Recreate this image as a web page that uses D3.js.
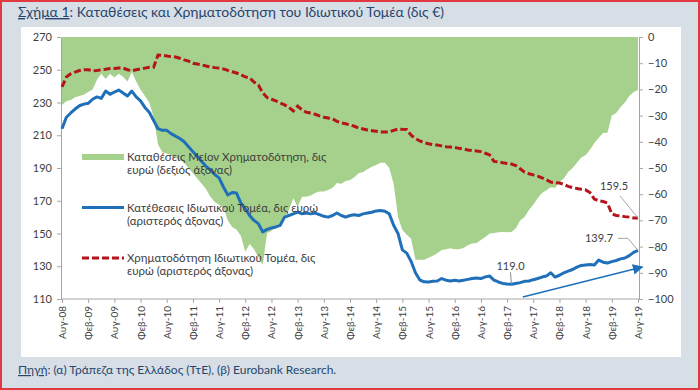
<!DOCTYPE html>
<html>
<head>
<meta charset="utf-8">
<script src="https://cdn.jsdelivr.net/npm/d3@7"></script>
<style>
  body { margin: 0; }
  svg { display: block; font-family: Lato, "Noto Sans", sans-serif; }
</style>
</head>
<body>
<div class="chart"></div>
<script>
// x tick labels, one every 6 months from Aug-08 (month index 0) to Aug-19 (index 132)
const tickLabels = [
  "Αυγ-08", "Φεβ-09", "Αυγ-09", "Φεβ-10", "Αυγ-10", "Φεβ-11", "Αυγ-11", "Φεβ-12",
  "Αυγ-12", "Φεβ-13", "Αυγ-13", "Φεβ-14", "Αυγ-14", "Φεβ-15", "Αυγ-15", "Φεβ-16",
  "Αυγ-16", "Φεβ-17", "Αυγ-17", "Φεβ-18", "Αυγ-18", "Φεβ-19", "Αυγ-19"
];
const leftTicks = [110, 130, 150, 170, 190, 210, 230, 250, 270];
const rightTicks = [0, -10, -20, -30, -40, -50, -60, -70, -80, -90, -100];

// monthly, Aug-08 .. Aug-19 (bn €)
const deposits = [
  214, 221, 223.6, 226, 228, 229, 229.5, 232, 233.4, 232.5, 237, 235,
  236.4, 237.6, 235.8, 234, 237, 233.4, 231, 227, 224, 219, 214, 213,
  213, 211, 209.5, 208, 206, 203, 200, 197, 194, 191, 188.8, 186,
  184, 178.4, 173.5, 175, 174.7, 168.6, 165, 161, 158, 156, 151, 152.5,
  153.4, 154, 155, 160, 161, 162, 163, 162, 162.5, 162, 162.5, 161.5,
  160.5, 160, 161, 162.5, 161, 160, 161, 161.5, 161, 162, 162.5, 163,
  163.8, 164, 163.6, 162, 155, 150, 140, 138, 133, 126, 121.6, 120.5,
  120.4, 120.8, 121, 122.5, 121.5, 121, 121.5, 121, 121.5, 122, 122.5, 122.8,
  122.5, 123.5, 124, 121.5, 120.4, 119.5, 119.2, 119.0, 119.5, 120, 120.8, 121,
  121.8, 122.5, 123.4, 124, 126, 123.4, 124.5, 126, 127, 128, 129.5, 130.5,
  130.8, 131, 130.8, 133.8, 132.5, 132, 132.8, 133.5, 134.5, 135, 136.5, 138.5,
  139.7
];
const loans = [
  239.5, 245.6, 247.5, 248.6, 249.5, 250, 250, 249.4, 249.5, 250, 250.3, 250.7,
  250.8, 251, 251, 250, 249.4, 250, 250.5, 251, 251.5, 251.5, 259, 258.8,
  258.4, 258, 257.8, 257, 256, 255.3, 254, 253.5, 253, 252.3, 251.7, 251.3,
  251, 250.5, 249.6, 248.8, 248, 247, 245.6, 245, 242.5, 240.7, 236, 233,
  232, 231, 229.7, 228.5, 227, 224.8, 227.8, 225.5, 224, 223.6, 222.8, 221.8,
  221, 220.5, 220, 218.5, 217.5, 217, 216.3, 215.5, 214.4, 213.8, 213.2, 212.8,
  212.4, 212, 212, 212, 213, 213.8, 213.6, 213.5, 210, 208, 206.5, 205.5,
  204.8, 204.2, 204, 203.5, 203, 202.8, 202.5, 202, 201.6, 201, 200.6, 200.4,
  200, 199, 198, 194, 193.7, 193.2, 192.8, 192.4, 191.5, 189.5, 187.5, 186.5,
  185.8, 185, 184, 182.8, 181.4, 181, 180.8, 180, 178.8, 178, 177.5, 177,
  176.6, 175, 171, 170, 169.5, 168.6, 162, 161, 160.7, 160.3, 160, 159.5,
  159.5
];
const gap = [
  -26, -24.5, -24, -23, -22.5, -22, -21, -20, -16.4, -14, -16, -14,
  -15.5, -14, -15.2, -17, -13.4, -17, -20, -22.5, -25, -30.5, -41, -44,
  -44.5, -45, -46, -47, -48, -50, -52, -54, -56, -58, -61, -63,
  -64, -65, -70, -72.5, -73.5, -76, -82, -79, -81, -84, -87, -74.8,
  -74, -72.5, -71, -68.7, -66, -61.5, -64.9, -61, -61, -60.5, -59.5, -59,
  -59, -58.4, -57.5, -55.7, -56, -55, -54.6, -53.5, -52, -51.5, -50.5, -49.5,
  -48.9, -48, -48, -50, -56, -68.7, -73.7, -75.5, -77, -85, -85, -85,
  -84.3, -83.5, -82.5, -81.3, -81, -80.6, -81, -81, -80.5, -79.5, -78.8, -78.6,
  -77.5, -76.3, -75, -74.8, -74.5, -74.4, -74.5, -74.4, -73, -70, -68.7, -66,
  -64, -61.5, -59.5, -58.5, -57.3, -57.5, -55.3, -54, -51.5, -50, -48, -46,
  -45, -43, -40.5, -38.5, -36.6, -36.5, -30, -29, -26.7, -25, -22.5, -21,
  -20.2
];

// trend arrow, in [month index, left-axis value]
const trendArrow = [[105.6, 111.2], [133, 129.5]];

const W = 700, H = 390;
const plot = { left: 61, right: 639, top: 37, bottom: 299 };

const colors = {
  gap: "#a6d18c",
  deposits: "#1f70b8",
  loans: "#b3151b",
  axis: "#a6a6a6",
  text: "#404040",
  title: "#27466c"
};

const svg = d3.select(".chart").append("svg").attr("width", W).attr("height", H);

// frame
svg.append("rect").attr("width", W).attr("height", H).attr("fill", "#d7dee6");
svg.append("rect").attr("x", 21).attr("y", 27).attr("width", 660).attr("height", 330).attr("fill", "#fff");
svg.append("rect").attr("x", 1).attr("y", 1).attr("width", W - 2).attr("height", H - 2)
  .attr("fill", "none").attr("stroke", "#e2383f").attr("stroke-width", 2);

// title
const title = svg.append("text").attr("x", 18).attr("y", 17)
  .style("font-size", "14px").style("fill", colors.title);
title.append("tspan").style("text-decoration", "underline").text("Σχήμα 1");
title.append("tspan").text(": Καταθέσεις και Χρηματοδότηση του Ιδιωτικού Τομέα (δις €)");

// source
const source = svg.append("text").attr("x", 18).attr("y", 374)
  .style("font-size", "12px").style("fill", colors.title);
source.append("tspan").style("text-decoration", "underline").text("Πηγή");
source.append("tspan").text(": (α) Τράπεζα της Ελλάδος (ΤτΕ), (β) Eurobank Research.");

const x = d3.scaleLinear().domain([0, 132]).range([plot.left + 1, plot.right - 1]);
const yL = d3.scaleLinear().domain([110, 270]).range([plot.bottom, plot.top]);
const yR = d3.scaleLinear().domain([-100, 0]).range([plot.bottom, plot.top]);

// green area (right axis)
svg.append("path")
  .datum(gap)
  .attr("fill", colors.gap)
  .attr("d", d3.area().x((d, i) => x(i)).y0(yR(0)).y1(d => yR(d)));

// axes
function styleAxis(g) {
  g.selectAll("path, line").attr("stroke", colors.axis);
  g.selectAll("text").style("fill", colors.text).style("font-family", "Lato, 'Noto Sans', sans-serif");
}

svg.append("g")
  .attr("transform", `translate(${plot.left},0)`)
  .call(d3.axisLeft(yL).tickValues(leftTicks).tickSize(4).tickSizeOuter(0).tickPadding(5))
  .call(styleAxis)
  .selectAll("text").style("font-size", "11px");

svg.append("g")
  .attr("transform", `translate(${plot.right},0)`)
  .call(d3.axisRight(yR).tickValues(rightTicks).tickSize(4).tickSizeOuter(0).tickPadding(5))
  .call(styleAxis)
  .selectAll("text").style("font-size", "11px");

const xAxis = svg.append("g")
  .attr("transform", `translate(0,${plot.bottom})`)
  .call(d3.axisBottom(x)
    .tickValues(d3.range(0, 133, 6))
    .tickFormat((d, i) => tickLabels[i])
    .tickSize(4).tickSizeOuter(0))
  .call(styleAxis);
xAxis.select(".domain").attr("d", `M${plot.left},0H${plot.right}`);
xAxis.selectAll("text")
  .style("font-size", "10px")
  .attr("transform", "rotate(-90)")
  .attr("text-anchor", "end")
  .attr("x", -7).attr("y", 0).attr("dy", "0.35em");

// lines
svg.append("path")
  .datum(loans)
  .attr("fill", "none")
  .attr("stroke", colors.loans)
  .attr("stroke-width", 3)
  .attr("stroke-dasharray", "7,3")
  .attr("d", d3.line().x((d, i) => x(i)).y(d => yL(d)));

svg.append("path")
  .datum(deposits)
  .attr("fill", "none")
  .attr("stroke", colors.deposits)
  .attr("stroke-width", 3)
  .attr("stroke-linejoin", "round")
  .attr("d", d3.line().x((d, i) => x(i)).y(d => yL(d)));

// trend arrow
svg.append("defs").append("marker")
  .attr("id", "arrowhead")
  .attr("viewBox", "0 0 10 10")
  .attr("refX", 9).attr("refY", 5)
  .attr("markerWidth", 7).attr("markerHeight", 7)
  .attr("orient", "auto")
  .append("path").attr("d", "M0,0L10,5L0,10z").attr("fill", colors.deposits);

svg.append("line")
  .attr("x1", x(trendArrow[0][0])).attr("y1", yL(trendArrow[0][1]))
  .attr("x2", x(trendArrow[1][0])).attr("y2", yL(trendArrow[1][1]))
  .attr("stroke", colors.deposits).attr("stroke-width", 1.5)
  .attr("marker-end", "url(#arrowhead)");

// value labels
const minIdx = d3.minIndex(deposits);
const last = deposits.length - 1;
const labelStyle = (s) => s.style("font-size", "11px").style("fill", colors.text).attr("text-anchor", "middle");

svg.append("line")
  .attr("x1", x(minIdx) - 1).attr("y1", yL(deposits[minIdx]) - 12)
  .attr("x2", x(minIdx)).attr("y2", yL(deposits[minIdx]))
  .attr("stroke", "#8c8c8c").attr("stroke-width", 1);
svg.append("text").attr("x", x(minIdx) - 1).attr("y", yL(deposits[minIdx]) - 14)
  .call(labelStyle).text(deposits[minIdx].toFixed(1));

svg.append("path")
  .attr("d", `M${x(last) - 20},${yL(deposits[last]) - 12}H${x(last) - 10}L${x(last)},${yL(deposits[last])}`)
  .attr("fill", "none").attr("stroke", "#a6a6a6").attr("stroke-width", 1);
svg.append("text").attr("x", x(last) - 39).attr("y", yL(deposits[last]) - 8)
  .call(labelStyle).text(deposits[last].toFixed(1));

svg.append("line")
  .attr("x1", x(last) - 18).attr("y1", yL(loans[last]) - 22)
  .attr("x2", x(last)).attr("y2", yL(loans[last]))
  .attr("stroke", "#a6a6a6").attr("stroke-width", 1);
svg.append("text").attr("x", x(last) - 24).attr("y", yL(loans[last]) - 28)
  .call(labelStyle).text(loans[last].toFixed(1));

// legend
const legendItems = [
  { type: "area", lines: ["Καταθέσεις Μείον Χρηματοδότηση, δις", "ευρώ (δεξιός άξονας)"] },
  { type: "deposits", lines: ["Κατέθεσεις Ιδιωτικού Τομέα, δις ευρώ", "(αριστερός άξονας)"] },
  { type: "loans", lines: ["Χρηματοδότηση Ιδιωτικού Τομέα, δις", "ευρώ (αριστερός άξονας)"] }
];
const legend = svg.append("g").attr("transform", "translate(82,157)");
legendItems.forEach((item, k) => {
  const g = legend.append("g").attr("transform", `translate(0,${k * 50.5})`);
  if (item.type === "area") {
    g.append("rect").attr("x", 0).attr("y", -3).attr("width", 42).attr("height", 6).attr("fill", colors.gap);
  } else {
    g.append("line").attr("x1", 0).attr("x2", 42).attr("y1", 0).attr("y2", 0)
      .attr("stroke", colors[item.type]).attr("stroke-width", 3)
      .attr("stroke-dasharray", item.type === "loans" ? "7,3" : null);
  }
  const t = g.append("text").attr("x", 45).attr("y", 4)
    .style("font-size", "11.5px").style("fill", colors.text);
  item.lines.forEach((ln, j) => t.append("tspan").attr("x", 45).attr("dy", j ? 13 : 0).text(ln));
});
</script>
</body>
</html>
